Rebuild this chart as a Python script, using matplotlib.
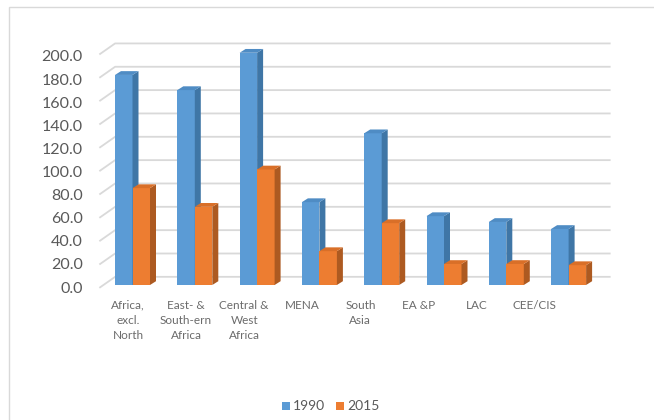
import matplotlib
matplotlib.use("Agg")
import matplotlib.pyplot as plt
from matplotlib.patches import Polygon, Rectangle
import numpy as np

# donnees
regions = ["Africa,\nexcl.\nNorth", "East- &\nSouth-ern\nAfrica", "Central &\nWest\nAfrica",
           "MENA", "South\nAsia", "EA &P", "LAC", "CEE/CIS"]
v1990 = [180, 167, 199, 71, 130, 59, 54, 48]
v2015 = [83, 67, 99, 29, 53, 18, 18, 17]
yticks = [0, 20, 40, 60, 80, 100, 120, 140, 160, 180, 200]

W, H = 654, 420
fig = plt.figure(figsize=(W / 100, H / 100), dpi=100)
fig.patch.set_facecolor("white")

# cadre gris clair
fig.add_artist(Rectangle((9 / W, -0.1), 2, 1.1 - 7 / H, transform=fig.transFigure,
                         fill=False, edgecolor="#d9d9d9", lw=1))

# axes : x = index de categorie, px = 132.5 + 62.3*x ; y px = 285 - 1.167*v
x0, x1 = -0.55, 7.7
y0, y1 = -5, 215
left_px = 132.5 + 62.3 * x0
right_px = 132.5 + 62.3 * x1
top_px = 285 - 1.167 * y1
bot_px = 285 - 1.167 * y0
ax = fig.add_axes([left_px / W, (H - bot_px) / H, (right_px - left_px) / W, (bot_px - top_px) / H])
ax.set_xlim(x0, x1)
ax.set_ylim(y0, y1)
ax.axis("off")

# quadrillage en perspective
grid = "#d9d9d9"
dxg = 15 / 62.3
for v in yticks:
    ax.plot([x0 + 0.03, x0 + 0.03 + dxg, 7.66], [v - 2, v + 7, v + 7], color=grid, lw=1.3, zorder=1)
    ax.text(x0 - 0.25, v * 0.99 - 3, f"{v:.1f}", ha="right", va="center",
            fontsize=11.5, color="#595959", family="Lato")

x = np.arange(len(regions))
bw = 17.5 / 62.3
ddx = 6 / 62.3
ddy = 3.8 / 1.167

def bar3d(xl, h, front, side, top, z):
    ax.add_patch(Rectangle((xl, 0), bw, h, facecolor=front, edgecolor="none", zorder=z))
    ax.add_patch(Polygon([(xl + bw, 0), (xl + bw + ddx, ddy), (xl + bw + ddx, h + ddy), (xl + bw, h)],
                         closed=True, facecolor=side, edgecolor="none", zorder=z))
    ax.add_patch(Polygon([(xl, h), (xl + ddx, h + ddy), (xl + bw + ddx, h + ddy), (xl + bw, h)],
                         closed=True, facecolor=top, edgecolor="none", zorder=z))

for i in range(len(regions)):
    xl = x[i] - bw
    bar3d(xl, v1990[i], "#5b9bd5", "#3f76a6", "#4f8cc4", 2)
    bar3d(xl + bw, v2015[i], "#ed7d31", "#ad5a21", "#d96f28", 3)

# etiquettes des categories (plan avant, un peu resserre)
for i, lab in enumerate(regions):
    lx = (128 + 58.1 * i - 132.5) / 62.3
    ax.text(lx, -12.5, lab, ha="center", va="top", fontsize=8.5, color="#6b6b6b",
            family="Lato", linespacing=1.45)

# legende
fig.patches.append(Rectangle((282 / W, (H - 410) / H), 8 / W, 8 / H, transform=fig.transFigure,
                             facecolor="#5b9bd5", edgecolor="none"))
fig.text(293 / W, (H - 406) / H, "1990", fontsize=10, color="#595959", family="Lato", va="center")
fig.patches.append(Rectangle((336 / W, (H - 410) / H), 8 / W, 8 / H, transform=fig.transFigure,
                             facecolor="#ed7d31", edgecolor="none"))
fig.text(347 / W, (H - 406) / H, "2015", fontsize=10, color="#595959", family="Lato", va="center")

fig.savefig("out.png", dpi=100)
